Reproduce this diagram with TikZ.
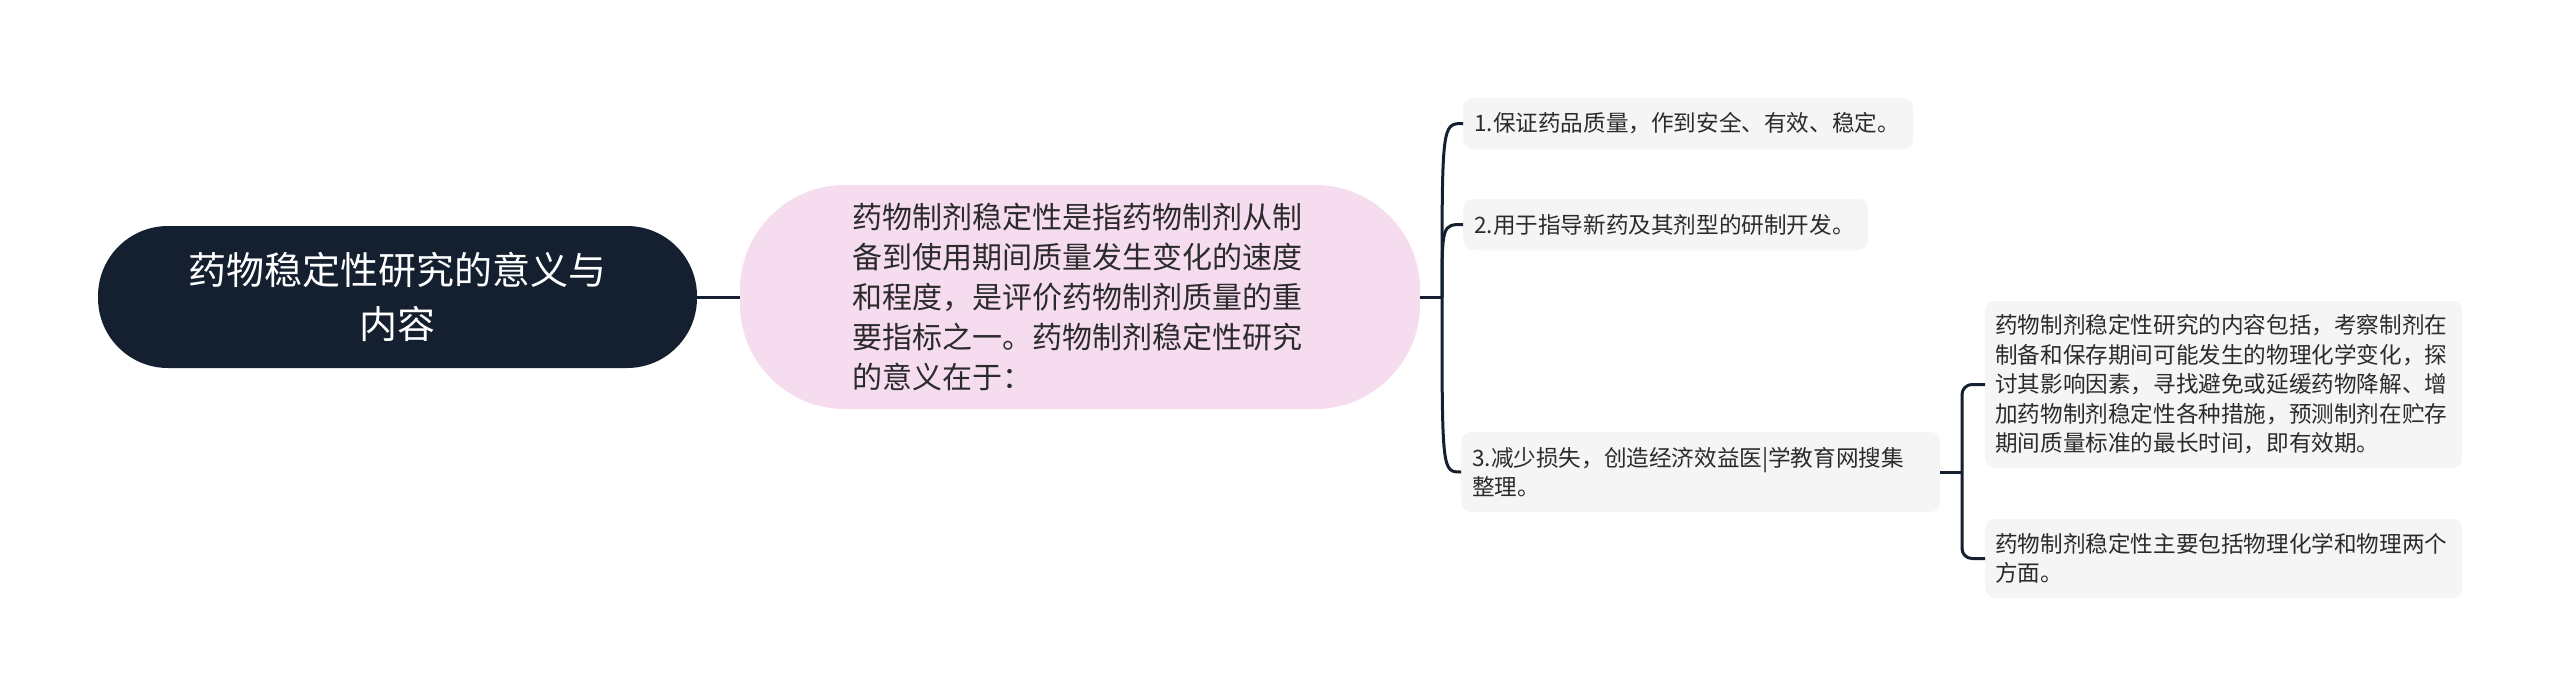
\documentclass[tikz,border=0pt]{standalone}
\usepackage{fontspec}
\setmainfont{Noto Sans CJK SC}
\definecolor{navy}{HTML}{14202F}
\definecolor{pinkfill}{HTML}{F6DCEF}
\definecolor{grayfill}{HTML}{F5F5F5}
\definecolor{txt}{HTML}{2B2B2B}
\begin{document}
\begin{tikzpicture}[x=1pt,y=-1pt,
  rootbox/.style={fill=navy,text=white,rounded corners=70,minimum width=599,minimum height=142,align=center,inner sep=0pt,font=\fontsize{38}{54}\selectfont},
  topicbox/.style={fill=pinkfill,text=txt,rounded corners=105,minimum width=680,minimum height=224,align=left,text width=456,inner sep=0pt,font=\fontsize{30}{40}\selectfont},
  leafbox/.style={fill=grayfill,text=txt,rounded corners=10,anchor=west,align=left,inner xsep=11,inner ysep=0pt,font=\fontsize{22.6}{29.5}\selectfont},
  link/.style={draw=navy,line width=3pt}]
\useasboundingbox[fill=white] (0,0) rectangle (2560,697);

\node[rootbox] (root) at (397.5,297) {药物稳定性研究的意义与\\内容};
\node[topicbox] (pink) at (1080,297) {药物制剂稳定性是指药物制剂从制\\备到使用期间质量发生变化的速度\\和程度，是评价药物制剂质量的重\\要指标之一。药物制剂稳定性研究\\的意义在于：};

\node[leafbox,minimum width=450,minimum height=51,text width=428] (c1) at (1463,123.5) {1.保证药品质量，作到安全、有效、稳定。};
\node[leafbox,minimum width=405,minimum height=51,text width=383] (c2) at (1463,224.5) {2.用于指导新药及其剂型的研制开发。};
\node[leafbox,minimum width=479,minimum height=80,text width=457] (c3) at (1461,472) {3.减少损失，创造经济效益医|学教育网搜集\\整理。};

\node[leafbox,minimum width=477,minimum height=167,text width=457,inner xsep=10] (g1) at (1985,384.5) {药物制剂稳定性研究的内容包括，考察制剂在\\制备和保存期间可能发生的物理化学变化，探\\讨其影响因素，寻找避免或延缓药物降解、增\\加药物制剂稳定性各种措施，预测制剂在贮存\\期间质量标准的最长时间，即有效期。};
\node[leafbox,minimum width=477,minimum height=79,text width=457,inner xsep=10] (g2) at (1985,558.5) {药物制剂稳定性主要包括物理化学和物理两个\\方面。};

\draw[link] (root.east) -- (pink.west);
\coordinate (b1) at (1442,297);
\draw[link] (pink.east) -- (b1);
\draw[link] (b1) .. controls (1442,123.5) .. (c1.west);
\draw[link] (b1) .. controls (1442,224.5) .. (c2.west);
\draw[link] (b1) .. controls (1442,472) .. (c3.west);

\coordinate (b2) at (1962,472);
\draw[link] (c3.east) -- (b2);
\draw[link,rounded corners=10] (g1.west) -- (1962,384.5) -- (1962,558.5) -- (g2.west);
\end{tikzpicture}
\end{document}
